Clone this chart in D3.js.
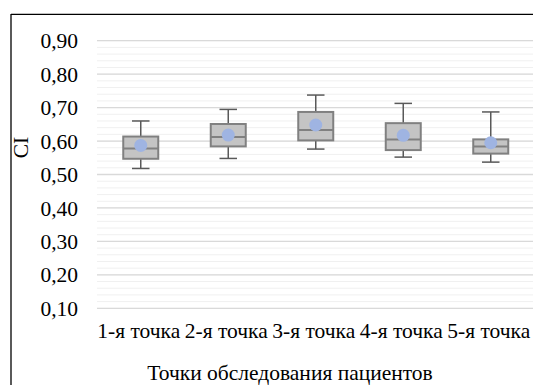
<!DOCTYPE html>
<html><head><meta charset="utf-8">
<script src="https://cdn.jsdelivr.net/npm/d3@7"></script>
<style>html,body{margin:0;padding:0;background:#fff;}svg{display:block;}
svg text{font-family:"Liberation Serif","Times New Roman",serif !important;fill:#000;}</style>
</head><body>
<svg id="c" width="533" height="385"></svg>
<script>
const categories = ["1-я точка","2-я точка","3-я точка","4-я точка","5-я точка"];
const whiskerLow  = [0.518, 0.548, 0.576, 0.552, 0.537];
const q1          = [0.547, 0.584, 0.602, 0.573, 0.5625];
const median      = [0.5775, 0.612, 0.633, 0.6045, 0.5835];
const q3          = [0.6135, 0.651, 0.687, 0.6535, 0.605];
const whiskerHigh = [0.660, 0.6946, 0.7375, 0.7126, 0.687];
const means       = [0.587, 0.618, 0.648, 0.617, 0.595];
const yTicks = [0.1,0.2,0.3,0.4,0.5,0.6,0.7,0.8,0.9];
const yMinor = d3.range(10,91,2).map(v=>v/100);

const svg = d3.select("#c");
const FS = 21.5;
const L=97, R=534.5, T=40.7, B=308.3;
const x = d3.scaleBand().domain(categories).range([L,R]).padding(0);
const y = d3.scaleLinear().domain([0.1,0.9]).range([B,T]);

svg.append("line").attr("x1",11).attr("x2",11).attr("y1",14).attr("y2",385).attr("stroke","#000").attr("stroke-width",1.3);
svg.append("line").attr("x1",11).attr("x2",533).attr("y1",14.3).attr("y2",14.3).attr("stroke","#000").attr("stroke-width",1.3);

svg.append("g").selectAll("line").data(yMinor).join("line")
  .attr("x1",L).attr("x2",R).attr("y1",d=>y(d)).attr("y2",d=>y(d))
  .attr("stroke","#f0f0f0").attr("stroke-width",1);
svg.append("g").selectAll("line").data(yTicks).join("line")
  .attr("x1",L).attr("x2",R).attr("y1",d=>y(d)).attr("y2",d=>y(d))
  .attr("stroke","#d9d9d9").attr("stroke-width",1.3);

const fmt = d=>d3.format(".2f")(d).replace(".",",");
const yAxis = d3.axisLeft(y).tickValues(yTicks).tickFormat(fmt).tickSize(0).tickPadding(19);
const ga = svg.append("g").attr("transform",`translate(${L},0)`).call(yAxis);
ga.select(".domain").remove();
ga.selectAll("text").style("font-size",FS+"px").attr("dy","0.33em");

const xAxis = d3.axisBottom(x).tickSize(0).tickPadding(14);
const gx = svg.append("g").attr("transform",`translate(-2,${B})`).call(xAxis);
gx.select(".domain").remove();
gx.selectAll("text").style("font-size",FS+"px");

const bw = x.bandwidth()*0.4;
const data = categories.map((c,i)=>({c,lo:whiskerLow[i],q1:q1[i],md:median[i],q3:q3[i],hi:whiskerHigh[i],mn:means[i]}));
const g = svg.append("g").selectAll("g").data(data).join("g")
  .attr("transform",d=>`translate(${x(d.c)+x.bandwidth()/2},0)`);
const wc="#595959";
g.append("line").attr("x1",0).attr("x2",0).attr("y1",d=>y(d.hi)).attr("y2",d=>y(d.q3)).attr("stroke",wc).attr("stroke-width",1.5);
g.append("line").attr("x1",0).attr("x2",0).attr("y1",d=>y(d.q1)).attr("y2",d=>y(d.lo)).attr("stroke",wc).attr("stroke-width",1.5);
g.append("line").attr("x1",-bw/4).attr("x2",bw/4).attr("y1",d=>y(d.hi)).attr("y2",d=>y(d.hi)).attr("stroke",wc).attr("stroke-width",1.5);
g.append("line").attr("x1",-bw/4).attr("x2",bw/4).attr("y1",d=>y(d.lo)).attr("y2",d=>y(d.lo)).attr("stroke",wc).attr("stroke-width",1.5);
g.append("rect").attr("x",-bw/2).attr("width",bw).attr("y",d=>y(d.q3)).attr("height",d=>y(d.q1)-y(d.q3))
  .attr("fill","#c4c4c4").attr("stroke","#808080").attr("stroke-width",2);
g.append("line").attr("x1",-bw/2).attr("x2",bw/2).attr("y1",d=>y(d.md)).attr("y2",d=>y(d.md)).attr("stroke","#808080").attr("stroke-width",2);
g.append("circle").attr("cx",0).attr("cy",d=>y(d.mn)).attr("r",6.5).attr("fill","#9fb4e2");

svg.append("text").attr("transform","translate(28,147.5) rotate(-90)").attr("text-anchor","middle")
  .style("font-size",FS+"px").text("CI");
svg.append("text").attr("x",290).attr("y",380).attr("text-anchor","middle")
  .style("font-size",FS+"px").text("Точки обследования пациентов");
</script>
</body></html>
